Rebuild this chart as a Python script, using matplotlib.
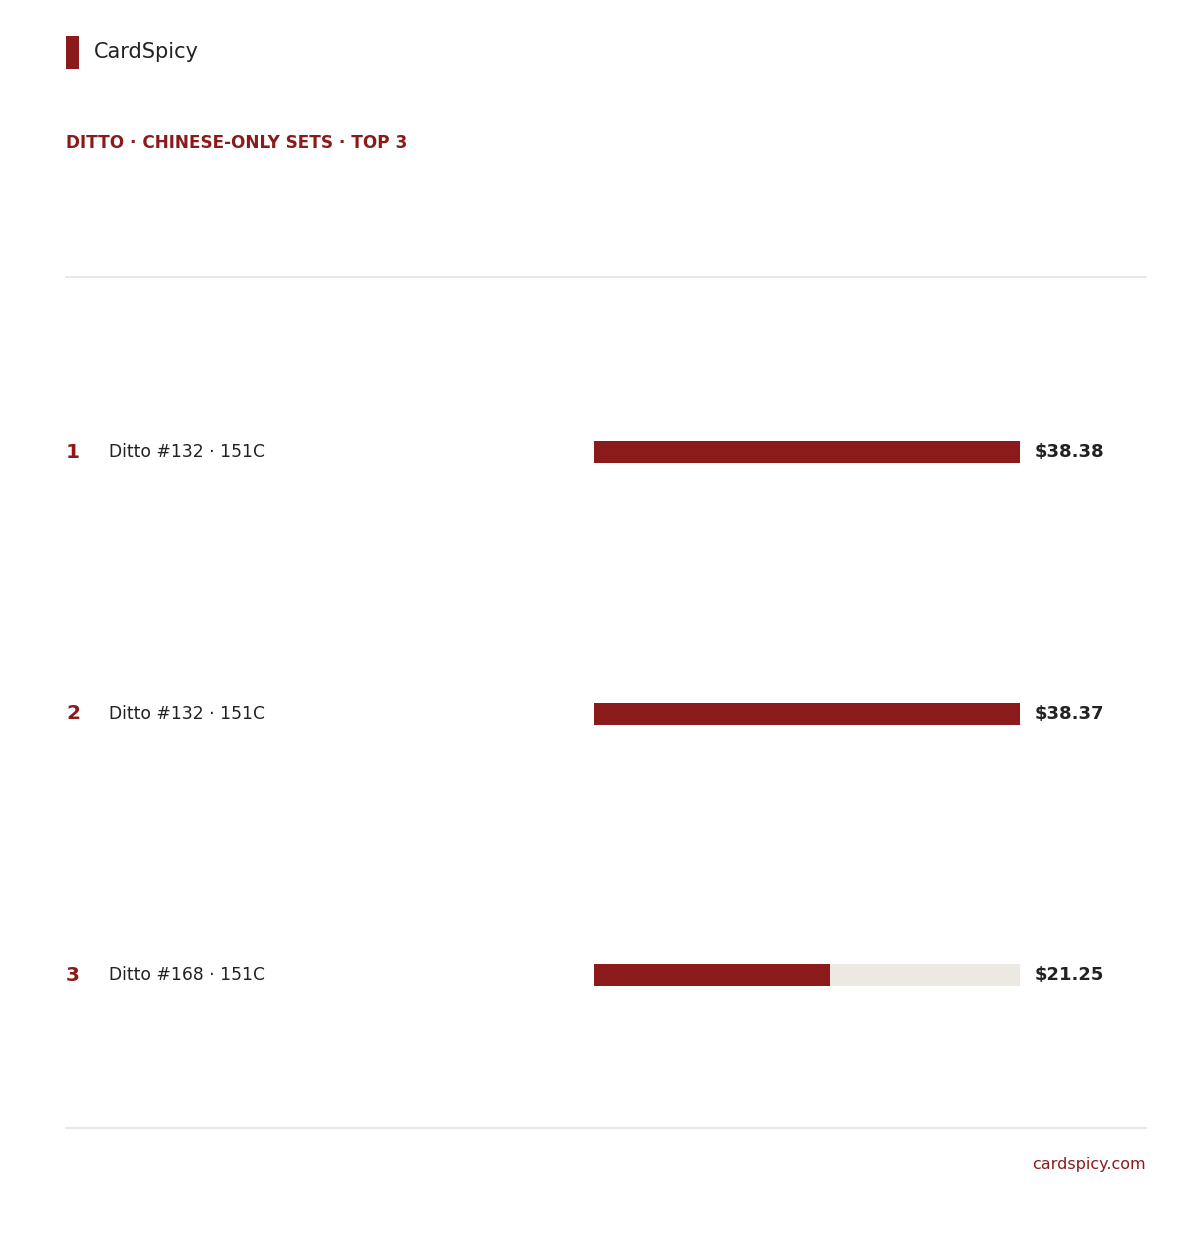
import matplotlib.pyplot as plt
from matplotlib.patches import Rectangle
from matplotlib.transforms import blended_transform_factory

plt.rcParams['font.family'] = ['DejaVu Sans']

# data
ranks = ["1", "2", "3"]
card_names = ["Ditto #132 · 151C", "Ditto #132 · 151C", "Ditto #168 · 151C"]
prices = [38.38, 38.37, 21.25]

RED = "#8b1a1a"
TRACK = "#ece9e2"
DARK = "#222222"
LINE = "#e8e8e8"

W, H = 1200, 1250
fig = plt.figure(figsize=(W / 100, H / 100), dpi=100)
fig.patch.set_facecolor("white")

# overlay axes in pixel coords for header / footer
base = fig.add_axes([0, 0, 1, 1])
base.set_xlim(0, W)
base.set_ylim(H, 0)
base.axis("off")

base.add_patch(Rectangle((66, 36), 13, 33, color=RED, lw=0))
base.text(94, 52, "CardSpicy", fontsize=15, color=DARK, va="center", ha="left")
base.text(66, 143, "DITTO · CHINESE-ONLY SETS · TOP 3", fontsize=12.2,
          fontweight="bold", color=RED, va="center", ha="left")
base.plot([66, 1146], [277, 277], color=LINE, lw=1.5)
base.plot([66, 1146], [1128, 1128], color=LINE, lw=1.5)
base.text(1146, 1164, "cardspicy.com", fontsize=11.5, color=RED,
          va="center", ha="right")

# bar axes: x from 594 to 1020 px, rows centred at 452 / 713 / 975 px
step = 261.5
top = 452 - step / 2
bot = 975 + step / 2
ax = fig.add_axes([594 / W, 1 - bot / H, (1020 - 594) / W, (bot - top) / H])
ax.set_xlim(0, max(prices))
ax.set_ylim(len(prices) - 0.5, -0.5)
ax.axis("off")

ypos = list(range(len(prices)))
bh = 22 / step
ax.barh(ypos, [max(prices)] * len(prices), height=bh, color=TRACK, lw=0)
ax.barh(ypos, prices, height=bh, color=RED, lw=0)

tr = blended_transform_factory(base.transData, ax.transData)
for i, (r, name, p) in enumerate(zip(ranks, card_names, prices)):
    base.text(66, i, r, transform=tr, fontsize=14.5, fontweight="bold",
              color=RED, va="center", ha="left")
    base.text(109, i, name, transform=tr, fontsize=12.3, color=DARK,
              va="center", ha="left")
    base.text(1035, i, f"${p:.2f}", transform=tr, fontsize=13,
              fontweight="bold", color=DARK, va="center", ha="left")

fig.savefig("out.png", dpi=100, facecolor="white")
